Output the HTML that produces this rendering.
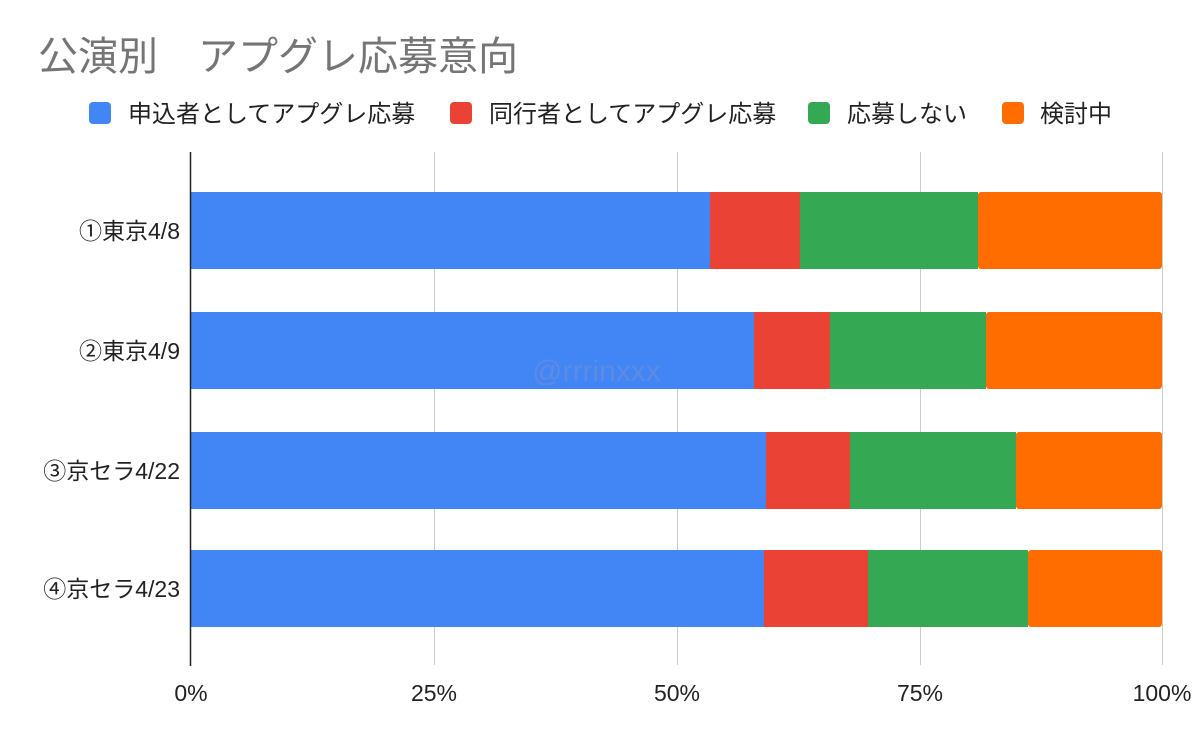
<!DOCTYPE html>
<html><head><meta charset="utf-8"><style>
body{margin:0;width:1200px;height:742px;background:#fff;overflow:hidden;font-family:"Liberation Sans","Noto Sans CJK JP",sans-serif}
</style></head><body>
<svg width="1200" height="742" xmlns="http://www.w3.org/2000/svg" font-family="Liberation Sans, Noto Sans CJK JP, sans-serif">
<text x="38" y="70" font-size="40" fill="#757575">公演別　アプグレ応募意向</text>
<g font-size="24" fill="#222">
<rect x="89" y="102" width="22" height="22" rx="4" fill="#4285f4"/><text x="128" y="122">申込者としてアプグレ応募</text>
<rect x="450" y="102" width="22" height="22" rx="4" fill="#ea4335"/><text x="489" y="122">同行者としてアプグレ応募</text>
<rect x="808" y="102" width="22" height="22" rx="4" fill="#34a853"/><text x="847" y="122">応募しない</text>
<rect x="1002" y="102" width="22" height="22" rx="4" fill="#ff6d01"/><text x="1040" y="122">検討中</text>
</g>
<g stroke="#ccc" stroke-width="1">
<line x1="434.5" y1="152" x2="434.5" y2="665"/><line x1="677.5" y1="152" x2="677.5" y2="665"/><line x1="920.5" y1="152" x2="920.5" y2="665"/><line x1="1162.5" y1="152" x2="1162.5" y2="665"/>
</g>
<g>
<rect x="191" y="192" width="519" height="77" fill="#4285f4"/><rect x="710" y="192" width="90" height="77" fill="#ea4335"/><rect x="800" y="192" width="178" height="77" fill="#34a853"/><rect x="978" y="192" width="184" height="77" rx="3" fill="#ff6d01"/>
<rect x="191" y="312" width="563" height="77" fill="#4285f4"/><rect x="754" y="312" width="76" height="77" fill="#ea4335"/><rect x="830" y="312" width="156" height="77" fill="#34a853"/><rect x="986" y="312" width="176" height="77" rx="3" fill="#ff6d01"/>
<rect x="191" y="432" width="575" height="77" fill="#4285f4"/><rect x="766" y="432" width="84" height="77" fill="#ea4335"/><rect x="850" y="432" width="166" height="77" fill="#34a853"/><rect x="1016" y="432" width="146" height="77" rx="3" fill="#ff6d01"/>
<rect x="191" y="550" width="573" height="77" fill="#4285f4"/><rect x="764" y="550" width="104" height="77" fill="#ea4335"/><rect x="868" y="550" width="160" height="77" fill="#34a853"/><rect x="1028" y="550" width="134" height="77" rx="3" fill="#ff6d01"/>
</g>
<line x1="190.5" y1="152" x2="190.5" y2="666" stroke="#222" stroke-width="1.5"/>
<text x="532" y="381" font-size="30" fill="#6f8fd8" opacity="0.6">@rrrinxxx</text>
<g font-size="23" fill="#222" text-anchor="end">
<text x="180" y="239">①東京4/8</text>
<text x="180" y="359">②東京4/9</text>
<text x="180" y="479">③京セラ4/22</text>
<text x="180" y="597">④京セラ4/23</text>
</g>
<g font-size="23" fill="#222" text-anchor="middle">
<text x="191" y="701">0%</text><text x="434" y="701">25%</text><text x="677" y="701">50%</text><text x="920" y="701">75%</text><text x="1162" y="701">100%</text>
</g>
</svg>
</body></html>
